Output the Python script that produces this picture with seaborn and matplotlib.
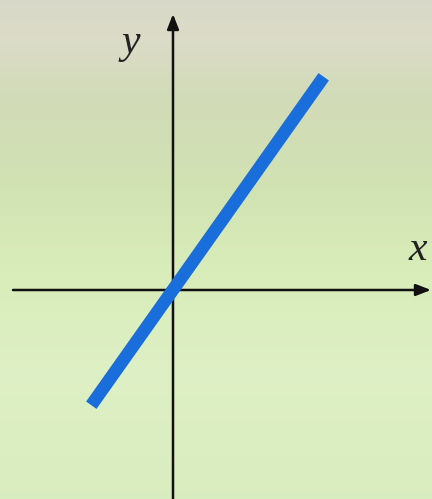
import numpy as np
import matplotlib
matplotlib.use("Agg")
import matplotlib.pyplot as plt
import seaborn as sns
import pandas as pd
from matplotlib.colors import LinearSegmentedColormap

sns.set_style("white")

# Line through the origin (endpoints in plot units)
line_x = [-1.56, 2.94]
line_y = [-2.2, 4.16]

# Axis labels
x_label = "x"
y_label = "y"

# Coordinate window and axis extents
xlim = (-3.46, 5.18)
ylim = (-4.18, 5.8)
x_axis_span = (-3.2, 5.16)
y_axis_span = (-4.2, 5.52)

fig = plt.figure(figsize=(4.32, 4.99), dpi=100)
ax = fig.add_axes([0, 0, 1, 1])
ax.set_xlim(*xlim)
ax.set_ylim(*ylim)

# Soft vertical background gradient, top to bottom
bg_stops = [
    (0.00, (0.85, 0.85, 0.79)),
    (0.08, (0.86, 0.86, 0.78)),
    (0.20, (0.82, 0.86, 0.72)),
    (0.38, (0.82, 0.89, 0.70)),
    (0.55, (0.85, 0.93, 0.73)),
    (0.75, (0.87, 0.94, 0.77)),
    (1.00, (0.85, 0.93, 0.75)),
]
cmap = LinearSegmentedColormap.from_list("bg", bg_stops)
grad = np.linspace(0, 1, 256).reshape(-1, 1)
ax.imshow(grad, cmap=cmap, aspect="auto", extent=[xlim[0], xlim[1], ylim[0], ylim[1]],
          origin="upper", zorder=0, interpolation="bicubic")

# Coordinate axes with arrowheads
axis_color = "#111111"
ax.annotate("", xy=(x_axis_span[1], 0), xytext=(x_axis_span[0], 0),
            arrowprops=dict(arrowstyle="-|>,head_length=0.9,head_width=0.35",
                            color=axis_color, lw=1.8, shrinkA=0, shrinkB=0), zorder=2)
ax.annotate("", xy=(0, y_axis_span[1]), xytext=(0, y_axis_span[0]),
            arrowprops=dict(arrowstyle="-|>,head_length=0.9,head_width=0.35",
                            color=axis_color, lw=1.8, shrinkA=0, shrinkB=0), zorder=2)

# The straight line
df = pd.DataFrame({"x": line_x, "y": line_y})
sns.lineplot(data=df, x="x", y="y", ax=ax, color="#1a6edb", linewidth=9.2,
             solid_capstyle="projecting", zorder=3)

# Axis labels
ax.text(-0.85, 4.95, y_label, fontsize=30, fontstyle="italic", family="Liberation Serif",
        color="#222222", ha="center", va="center", zorder=4)
ax.text(4.9, 0.8, x_label, fontsize=30, fontstyle="italic", family="Liberation Serif",
        color="#222222", ha="center", va="center", zorder=4)

ax.set_axis_off()
fig.savefig("out.png", dpi=100)
